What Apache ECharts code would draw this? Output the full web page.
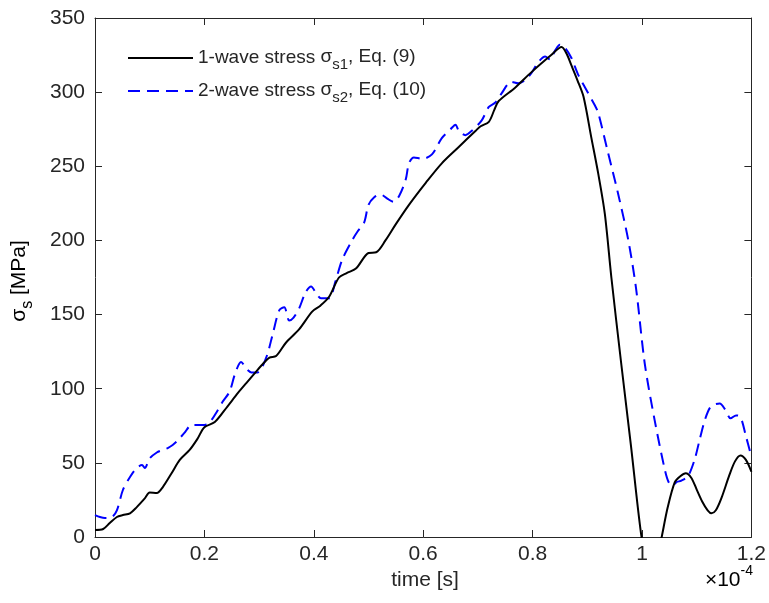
<!DOCTYPE html>
<html>
<head>
<meta charset="utf-8">
<script src="https://cdn.jsdelivr.net/npm/echarts@6/dist/echarts.min.js"></script>
<style>html,body{margin:0;padding:0;background:#fff;}#c{width:769px;height:603px;}</style>
</head>
<body>
<div id="c"></div>
<script>
// time in units of 1e-4 s
const timeS1 = [0,0.015,0.027,0.04,0.051,0.064,0.076,0.091,0.1,0.113,0.124,0.14,0.155,0.173,0.187,0.2,0.219,0.242,0.261,0.277,0.291,0.305,0.319,0.331,0.349,0.373,0.397,0.412,0.428,0.446,0.46,0.477,0.5,0.514,0.531,0.55,0.574,0.605,0.634,0.665,0.696,0.705,0.72,0.73,0.738,0.768,0.798,0.834,0.853,0.862,0.871,0.882,0.893,0.907,0.92,0.932,0.944,0.962,0.98,0.998,1.008,1.018,1.028,1.036,1.047,1.06,1.07,1.08,1.09,1.1,1.11,1.12,1.127,1.135,1.145,1.16,1.17,1.18,1.19,1.2];
const stressS1 = [4.7,5.4,9.4,13.5,14.8,16,20,26,30,29.7,33.7,43,52,58.7,66,74,77.5,88,97,104,110,116,121,122,131,140,152,156,162,175,178,181,191.5,192,200,211,224,239,252,263,274,277,280,288,294,303,313.5,325,330.5,326,318,308,297,270,245,218,175,117,61,3,-15,-22,-14,0,20,37,41,43,40,32,24,18,16,18,26,42,51,55,52,44];
const timeS2 = [0,0.009,0.018,0.031,0.04,0.051,0.064,0.076,0.086,0.091,0.1,0.113,0.124,0.133,0.142,0.151,0.163,0.177,0.2,0.209,0.222,0.233,0.246,0.256,0.267,0.278,0.286,0.297,0.313,0.325,0.337,0.346,0.355,0.363,0.373,0.385,0.395,0.405,0.413,0.428,0.44,0.452,0.47,0.48,0.492,0.5,0.51,0.522,0.535,0.546,0.556,0.568,0.574,0.583,0.598,0.616,0.634,0.65,0.659,0.665,0.677,0.689,0.707,0.72,0.732,0.743,0.761,0.774,0.786,0.798,0.81,0.823,0.832,0.841,0.85,0.859,0.871,0.883,0.902,0.914,0.92,0.938,0.956,0.975,0.989,1.005,1.023,1.042,1.05,1.057,1.063,1.072,1.084,1.096,1.105,1.115,1.126,1.142,1.152,1.162,1.172,1.18,1.19,1.198,1.2];
const stressS2 = [14.8,13.5,12.8,13.5,18,31.7,40.5,46.5,48.5,46.5,53,57,58.7,60,62,65,70,75.5,75.5,77,84,91,98,110,118,113,111,111,121,137,153,155,146,148,154,165,169,164,161,161,173,187,200,206,212,224,229,231,228,226,230,241,252,256,255,258,269,275,278,274,271,274,281,290,293,299,307,306,308,313,320,324,322,328,332,330,323,312,299,291,286,259,232,200,168,117,79,45,36,35,37,38,41,52,65,79,88,90,86,80,82,81,68,57,55];
const xTicks = [0,0.2,0.4,0.6,0.8,1,1.2];
const yTicks = [0,50,100,150,200,250,300,350];
const seriesNames = ['1-wave stress', '2-wave stress'];
const legendLabels = ['1-wave stress {g|σ}{sub|s1}{t|, Eq. (9)}', '2-wave stress {g|σ}{sub|s2}{t|, Eq. (10)}'];

const FONT = '"Liberation Sans", Arial, sans-serif';
const AX = '#262626';
const chart = echarts.init(document.getElementById('c'), null, {renderer: 'canvas'});

const LF = 19;
const legRich = {
  g: {fontSize: LF, fontFamily: FONT, color: AX, lineHeight: 22, verticalAlign: 'top'},
  t: {fontSize: LF, fontFamily: FONT, color: AX, lineHeight: 22, verticalAlign: 'top'},
  sub: {fontSize: 15, fontFamily: FONT, color: AX, lineHeight: 15, padding: [10, 0, 0, 0], verticalAlign: 'top'}
};
function mkLegend(i, top) {
  return {
    data: [seriesNames[i]], left: 127, top: top, padding: 0,
    itemWidth: 65, itemHeight: 14, selectedMode: false,
    itemStyle: {opacity: 0, borderWidth: 0},
    formatter: () => legendLabels[i],
    textStyle: {fontSize: LF, fontFamily: FONT, color: AX, lineHeight: 22, verticalAlign: 'top', rich: legRich}
  };
}
function fmtX(v) { return String(parseFloat(v.toFixed(1))); }

const TF = 21;
const baseX = {type: 'value', min: 0, max: 1.2, interval: 0.2,
  axisLine: {show: true, onZero: false, lineStyle: {color: AX, width: 1}},
  axisTick: {show: true, inside: true, length: 7, lineStyle: {color: AX}},
  splitLine: {show: false}};
const baseY = {type: 'value', min: 0, max: 350, interval: 50,
  axisLine: {show: true, onZero: false, lineStyle: {color: AX, width: 1}},
  axisTick: {show: true, inside: true, length: 7, lineStyle: {color: AX}},
  splitLine: {show: false}};

chart.setOption({
  animation: false,
  backgroundColor: '#fff',
  grid: {left: 95, right: 15, top: 18, bottom: 66, containLabel: false},
  xAxis: [
    Object.assign({}, baseX, {position: 'bottom',
      axisLabel: {show: true, margin: 7, fontSize: TF, fontFamily: FONT, color: AX, formatter: fmtX}}),
    Object.assign({}, baseX, {position: 'top', axisLabel: {show: false}})
  ],
  yAxis: [
    Object.assign({}, baseY, {position: 'left',
      axisLabel: {show: true, margin: 10, fontSize: TF, fontFamily: FONT, color: AX}}),
    Object.assign({}, baseY, {position: 'right', axisLabel: {show: false}})
  ],
  legend: [mkLegend(0, 47), mkLegend(1, 80)],
  series: [
    {name: seriesNames[0], type: 'line', xAxisIndex: 0, yAxisIndex: 0, showSymbol: false, symbol: 'none',
     smooth: 0.3, clip: true, data: timeS1.map((t, i) => [t, stressS1[i]]),
     lineStyle: {color: '#000000', width: 2}, itemStyle: {color: '#000000'}, z: 3},
    {name: seriesNames[1], type: 'line', xAxisIndex: 0, yAxisIndex: 0, showSymbol: false, symbol: 'none',
     smooth: 0.3, clip: true, data: timeS2.map((t, i) => [t, stressS2[i]]),
     lineStyle: {color: '#0000ff', width: 2, type: [12, 7]}, itemStyle: {color: '#0000ff'}, z: 2}
  ],
  graphic: [
    {type: 'text', x: 425, y: 580, style: {text: 'time [s]', x: 0, y: 0, align: 'center', verticalAlign: 'middle',
      fontSize: TF, fontFamily: FONT, fill: AX}},
    {type: 'text', x: 753, y: 579, style: {text: '{a|×10}{b|-4}', x: 0, y: 0, align: 'right', verticalAlign: 'middle',
      rich: {a: {fontSize: TF, fontFamily: FONT, color: AX, lineHeight: 24, verticalAlign: 'bottom'},
             b: {fontSize: 14, fontFamily: FONT, color: AX, lineHeight: 14, padding: [0, 0, 13, 0], verticalAlign: 'bottom'}}}},
    {type: 'text', x: 21, y: 281, rotation: Math.PI / 2, style: {text: '{g|σ}{sub|s}{t| [MPa]}', x: 0, y: 0, align: 'center', verticalAlign: 'middle',
      rich: {g: {fontSize: TF, fontFamily: FONT, color: AX, lineHeight: 24, verticalAlign: 'top'},
             t: {fontSize: TF, fontFamily: FONT, color: AX, lineHeight: 24, verticalAlign: 'top'},
             sub: {fontSize: 16, fontFamily: FONT, color: AX, lineHeight: 16, padding: [11, 0, 0, 0], verticalAlign: 'top'}}}}
  ]
});
</script>
</body>
</html>
